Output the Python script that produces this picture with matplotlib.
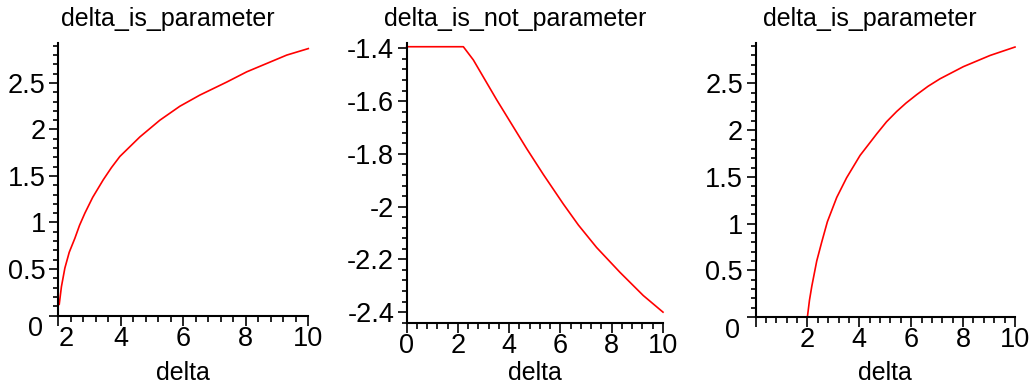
import matplotlib
matplotlib.use("Agg")
import matplotlib.pyplot as plt
import matplotlib.transforms as mtransforms
import numpy as np

plt.rcParams['font.family'] = ['Liberation Sans', 'DejaVu Sans']
plt.rcParams['axes.unicode_minus'] = False

# delta_is_parameter (left)
x1 = [2.03, 2.10, 2.21, 2.35, 2.53, 2.68, 2.85, 3.10, 3.44, 3.70, 3.97, 4.61, 5.25, 5.89, 6.53, 7.39, 8.03, 8.67, 9.31, 10]
y1 = [0.12, 0.31, 0.51, 0.68, 0.83, 0.97, 1.10, 1.27, 1.46, 1.59, 1.71, 1.92, 2.10, 2.25, 2.37, 2.51, 2.62, 2.71, 2.80, 2.87]

# delta_is_not_parameter (middle)
x2 = [0, 2.21, 2.60, 3.51, 4.68, 5.33, 6.11, 6.70, 7.41, 8.32, 9.23, 10]
y2 = [-1.394, -1.394, -1.444, -1.595, -1.780, -1.878, -1.990, -2.070, -2.155, -2.249, -2.337, -2.40]

# delta_is_parameter (right)
x3 = [2.0, 2.08, 2.17, 2.36, 2.55, 2.77, 3.13, 3.51, 4.03, 4.67, 5.05, 5.44, 5.80, 6.21, 6.65, 7.11, 8.01, 9.04, 10]
y3 = [0, 0.18, 0.33, 0.60, 0.80, 1.02, 1.28, 1.49, 1.73, 1.96, 2.09, 2.20, 2.29, 2.38, 2.47, 2.55, 2.68, 2.80, 2.89]

titles = ["delta_is_parameter", "delta_is_not_parameter", "delta_is_parameter"]
title_x = [168, 515, 870]

W, H = 1032, 390
fig = plt.figure(figsize=(W / 100, H / 100), dpi=100)


def px_axes(left, right, top, bottom):
    return fig.add_axes([left / W, 1 - bottom / H, (right - left) / W, (bottom - top) / H])


ax1 = px_axes(58.3, 308.3, 43, 315.5)
ax2 = px_axes(406.7, 663, 43.3, 322.7)
ax3 = px_axes(755.5, 1015, 43.3, 317)

fs = 18
tfs = 19.5


def style(ax):
    for s in ['top', 'right']:
        ax.spines[s].set_visible(False)
    for s in ['left', 'bottom']:
        ax.spines[s].set_linewidth(1.5)
        ax.spines[s].set_color('black')
    ax.tick_params(axis='both', which='both', direction='out', width=1.2, colors='black', labelsize=tfs)
    ax.tick_params(axis='x', which='major', length=7, pad=0.5)
    ax.tick_params(axis='x', which='minor', length=4.5)
    ax.tick_params(axis='y', which='major', length=6.5, pad=2.5)
    ax.tick_params(axis='y', which='minor', length=3.8)
    ax.set_facecolor('white')


for ax, xs, ys in [(ax1, x1, y1), (ax2, x2, y2), (ax3, x3, y3)]:
    ax.plot(xs, ys, color='#ff0000', lw=1.2, clip_on=False)
    style(ax)

# left panel
ax1.set_xlim(2, 10)
ax1.set_ylim(0, 2.93)
ax1.set_xticks([2, 4, 6, 8, 10])
ax1.set_xticks(np.arange(2, 10.01, 0.4), minor=True)
ax1.set_yticks([0, 0.5, 1, 1.5, 2, 2.5], labels=['', '0.5', '1', '1.5', '2', '2.5'])
ax1.set_yticks(np.arange(0, 2.93, 0.1), minor=True)
ax1.get_xticklabels()[0].set_ha('left')

# middle panel
ax2.set_xlim(0, 10)
ax2.set_ylim(-2.435, -1.381)
ax2.set_xticks([0, 2, 4, 6, 8, 10])
ax2.set_xticks(np.arange(0, 10.01, 0.4), minor=True)
yt2 = [-2.4, -2.2, -2, -1.8, -1.6, -1.4]
ax2.set_yticks(yt2, labels=['-2.4', '-2.2', '-2', '-1.8', '-1.6', '-1.4'])
ax2.set_yticks(np.arange(-2.44, -1.38, 0.04), minor=True)

# right panel
ax3.set_xlim(0, 10)
ax3.set_ylim(0, 2.93)
ax3.set_xticks([0, 2, 4, 6, 8, 10], labels=['', '2', '4', '6', '8', '10'])
ax3.set_xticks(np.arange(0, 10.01, 0.4), minor=True)
ax3.set_yticks([0, 0.5, 1, 1.5, 2, 2.5], labels=['', '0.5', '1', '1.5', '2', '2.5'])
ax3.set_yticks(np.arange(0, 2.93, 0.1), minor=True)

# the "0" at the origin sits below-left of the corner
for ax in (ax1, ax3):
    ax.annotate('0', xy=(0, 0), xycoords='axes fraction', xytext=(-15, -14),
                textcoords='offset pixels', ha='right', va='center', fontsize=tfs)

for ax, t, tx in zip((ax1, ax2, ax3), titles, title_x):
    fig.text(tx / W, 1 - 26 / H, t, ha='center', va='baseline', fontsize=fs)
    ax.set_xlabel('delta', fontsize=fs)
    ax.xaxis.label.set_va('baseline')
    ax.xaxis.set_label_coords(0.5, 1 - 380 / H,
                              transform=mtransforms.blended_transform_factory(ax.transAxes, fig.transFigure))

fig.savefig('out.png', dpi=100, facecolor='white')
